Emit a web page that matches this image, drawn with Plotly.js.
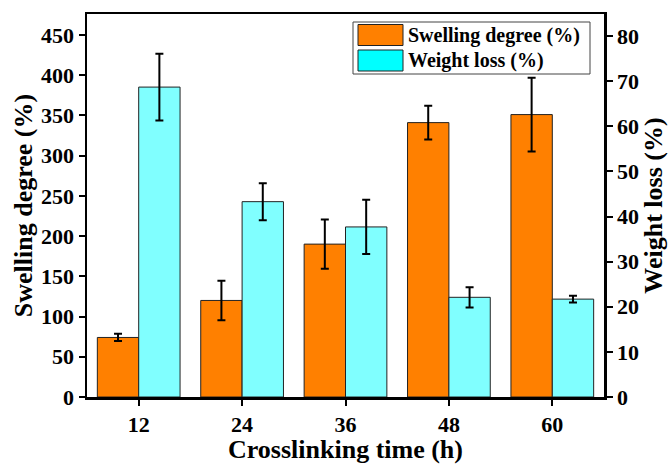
<!DOCTYPE html>
<html>
<head>
<meta charset="utf-8">
<script src="https://cdn.plot.ly/plotly-3.0.1.min.js"></script>
<style>html,body{margin:0;padding:0;background:#fff;}#chart{width:670px;height:464px;}</style>
</head>
<body>
<div id="chart"></div>
<script>
const times = [12, 24, 36, 48, 60];
const tickLabels = ["12", "24", "36", "48", "60"];
const swelling = [74, 120, 190, 341, 351];
const swellingErr = [4.5, 24.6, 30.5, 21.1, 45.8];
const weightLoss = [68.7, 43.3, 37.7, 22.1, 21.7];
const weightLossErr = [7.4, 4.1, 6.0, 2.25, 0.75];
const seriesNames = ["Swelling degree (%)", "Weight loss (%)"];

const FONT = "'Liberation Serif', 'Times New Roman', serif";
const barW = 4.8;

const traces = [
  {
    type: "bar", x: times, y: swelling, name: seriesNames[0],
    width: barW, offset: -barW,
    marker: {color: "#FF8000", line: {color: "#222", width: 1}},
    error_y: {type: "data", array: swellingErr, visible: true, color: "#000", thickness: 2, width: 4},
    yaxis: "y", showlegend: false
  },
  {
    type: "bar", x: times, y: weightLoss, name: seriesNames[1],
    width: barW, offset: 0,
    marker: {color: "#80FFFF", line: {color: "#222", width: 1}},
    error_y: {type: "data", array: weightLossErr, visible: true, color: "#000", thickness: 2, width: 4},
    yaxis: "y2", showlegend: false
  }
];

const axisFont = {family: FONT, size: 22, color: "#000", weight: "bold"};
const titleFont = {family: FONT, size: 26, color: "#000", weight: "bold"};

const layout = {
  width: 670, height: 464,
  margin: {l: 87, r: 66, t: 14, b: 67},
  paper_bgcolor: "#fff", plot_bgcolor: "#fff",
  barmode: "overlay",
  showlegend: false,
  xaxis: {
    range: [6, 66], tickvals: times, ticktext: tickLabels,
    showline: true, linewidth: 2.5, linecolor: "#000", mirror: true,
    ticks: "outside", ticklen: 6, tickwidth: 2, tickcolor: "#000",
    showgrid: false, zeroline: false, tickfont: axisFont, automargin: false,
    title: {text: "Crosslinking time (h)", font: titleFont, standoff: 5}
  },
  yaxis: {
    range: [0, 476], tickvals: [0,50,100,150,200,250,300,350,400,450],
    showline: true, linewidth: 2.5, linecolor: "#000",
    ticks: "outside", ticklen: 6, tickwidth: 2, tickcolor: "#000",
    showgrid: false, zeroline: false, tickfont: axisFont, automargin: false,
    title: {text: "Swelling degree (%)", font: titleFont, standoff: 1}
  },
  yaxis2: {
    range: [0, 84.9], tickvals: [0,10,20,30,40,50,60,70,80],
    overlaying: "y", side: "right",
    showline: true, linewidth: 2.5, linecolor: "#000",
    ticks: "outside", ticklen: 6, tickwidth: 2, tickcolor: "#000",
    showgrid: false, zeroline: false, tickfont: axisFont, automargin: false,
    title: {text: "Weight loss (%)", font: titleFont, standoff: 6}
  },
  shapes: [],
  annotations: []
};

// custom legend (paper coordinates)
const px2x = p => (p - 87) / (670 - 87 - 66);
const px2y = p => (464 - 67 - p) / (464 - 14 - 67);
layout.shapes.push({type: "rect", xref: "paper", yref: "paper",
  x0: px2x(353), x1: px2x(590), y0: px2y(74), y1: px2y(22),
  line: {color: "#444", width: 1}, fillcolor: "#fff"});
const swatchColors = ["#FF8000", "#00FFFF"];
[0, 1].forEach(i => {
  const top = 24.5 + i * 25.5;
  layout.shapes.push({type: "rect", xref: "paper", yref: "paper",
    x0: px2x(358), x1: px2x(403), y0: px2y(top + 21), y1: px2y(top),
    line: {color: "#222", width: 1}, fillcolor: swatchColors[i]});
  layout.annotations.push({xref: "paper", yref: "paper",
    x: px2x(406), y: px2y(top + 10.5), xanchor: "left", yanchor: "middle",
    text: seriesNames[i], showarrow: false,
    font: {family: FONT, size: 20, color: "#000", weight: "bold"}});
});

Plotly.newPlot("chart", traces, layout, {displayModeBar: false, staticPlot: true});
</script>
</body>
</html>
